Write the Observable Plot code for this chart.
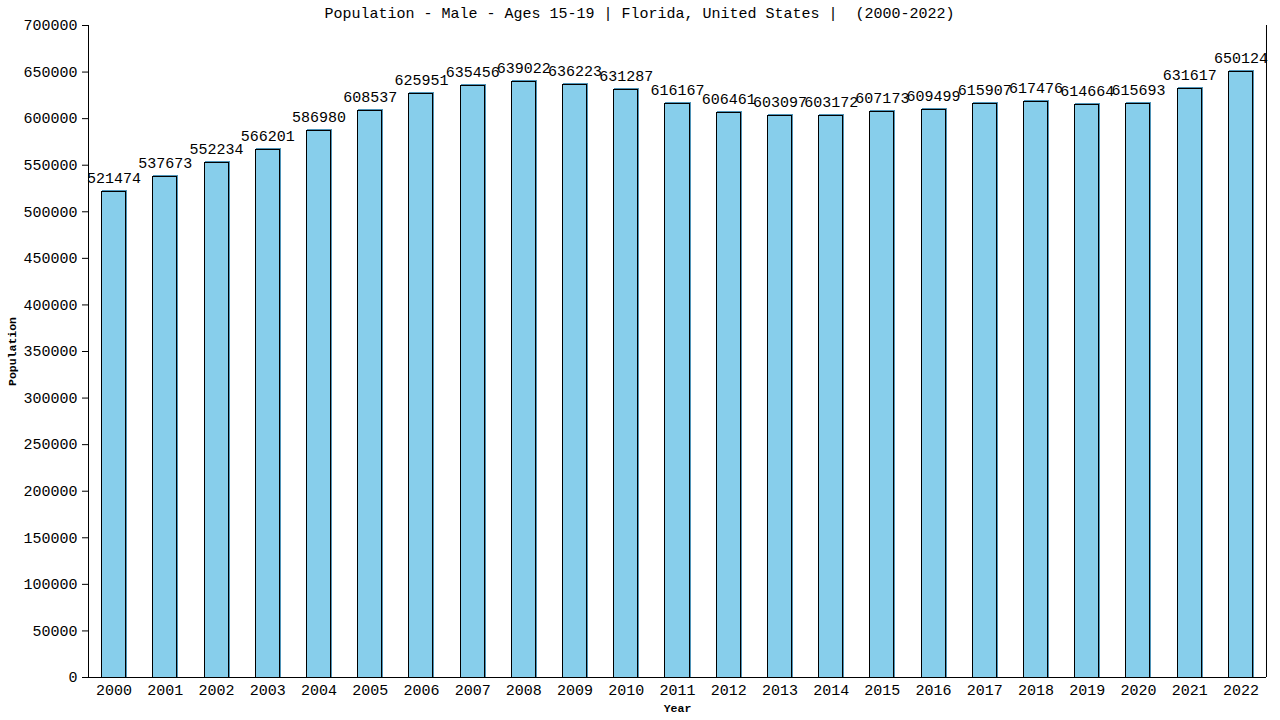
<!DOCTYPE html>
<html>
<head>
<meta charset="utf-8">
<script src="https://cdn.jsdelivr.net/npm/d3@7"></script>
<script src="https://cdn.jsdelivr.net/npm/@observablehq/plot@0.6"></script>
<style>
  html, body { margin: 0; padding: 0; background: #fff; }
  #chart svg { display: block; }
</style>
</head>
<body>
<div id="chart"></div>
<script>
const years = ["2000","2001","2002","2003","2004","2005","2006","2007","2008","2009","2010","2011","2012","2013","2014","2015","2016","2017","2018","2019","2020","2021","2022"];
const population = [521474,537673,552234,566201,586980,608537,625951,635456,639022,636223,631287,616167,606461,603097,603172,607173,609499,615907,617476,614664,615693,631617,650124];
const yTicks = [0,50000,100000,150000,200000,250000,300000,350000,400000,450000,500000,550000,600000,650000,700000];
const titleText = "Population - Male - Ages 15-19 | Florida, United States |  (2000-2022)";
const xLabel = "Year";
const yLabel = "Population";

const data = years.map((y, i) => ({year: y, value: population[i]}));
const font = "'Liberation Mono', 'DejaVu Sans Mono', monospace";

const chart = Plot.plot({
  width: 1280,
  height: 720,
  marginTop: 25,
  marginBottom: 43,
  marginLeft: 88,
  marginRight: 14,
  style: {fontFamily: font, fontSize: "15px", color: "#000", background: "#fff"},
  x: {domain: years, paddingInner: 0.53, paddingOuter: 0.265, round: false, label: null},
  y: {domain: [0, 700000], label: null},
  marks: [
    Plot.barY(data, {x: "year", y: "value", fill: "#87CEEB", stroke: "#4f94b8", strokeWidth: 1, dx: 1, dy: -1, shapeRendering: "crispEdges"}),
    Plot.barY(data, {x: "year", y: "value", fill: "#87CEEB", stroke: "#000", strokeWidth: 1, shapeRendering: "crispEdges"}),
    Plot.text(data, {x: "year", y: "value", text: d => String(d.value), lineAnchor: "bottom", dy: -9, fontSize: 15, fill: "#000"}),
    Plot.axisY({ticks: yTicks, tickFormat: d => String(d), tickSize: 6, tickPadding: 5, fontSize: 15, label: null}),
    Plot.axisX({tickSize: 0, tickPadding: 7, fontSize: 15, label: null}),
    Plot.ruleY([0]),
    Plot.ruleX([0], {x: () => years[0], dx: -25.6, y1: 0, y2: 700000}),
    Plot.ruleX([0], {x: () => years[years.length - 1], dx: 25.6, y1: 0, y2: 700000}),
    Plot.text([titleText], {frameAnchor: "top", lineAnchor: "middle", dy: -12, dx: -38, fontSize: 15, fill: "#000"}),
    Plot.text([xLabel], {frameAnchor: "bottom", lineAnchor: "middle", dy: 31, fontSize: 11.5, fontWeight: "bold", fill: "#000"}),
    Plot.text([yLabel], {frameAnchor: "left", textAnchor: "middle", lineAnchor: "middle", dx: -76, rotate: -90, fontSize: 11.5, fontWeight: "bold", fill: "#000"})
  ]
});
document.getElementById("chart").appendChild(chart);
</script>
</body>
</html>
